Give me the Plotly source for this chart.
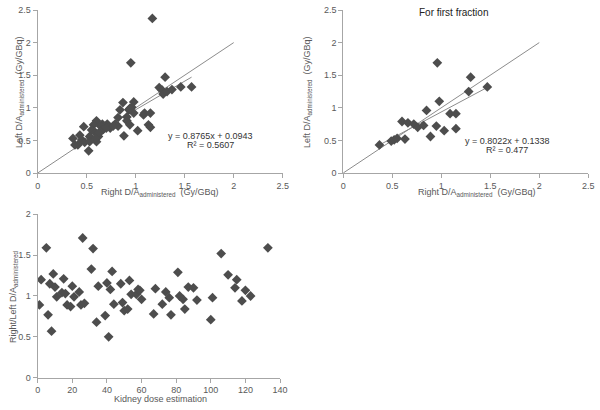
import plotly.graph_objects as go

# panel 1: all fractions, right vs left D/A administered
all_right = [1.17, 0.95, 1.30, 1.24, 1.27, 1.28, 1.32, 1.37, 1.46, 1.57,
             0.87, 0.98, 0.96, 0.93, 0.84, 0.91, 0.98, 0.82, 1.08, 1.09,
             1.15, 0.91, 0.94, 1.13, 1.15, 0.82, 0.79, 0.74, 0.71, 0.88,
             1.02, 0.66, 0.60, 0.64, 0.57, 0.55, 0.59, 0.62, 0.60, 0.53,
             0.52, 0.47, 0.43, 0.45, 0.41, 0.36, 0.38, 0.48, 0.64, 0.67,
             0.70, 0.62, 0.59, 0.53, 0.77, 0.94]
all_left = [2.37, 1.69, 1.47, 1.31, 1.27, 1.21, 1.25, 1.28, 1.32, 1.32,
            1.08, 1.09, 1.01, 0.97, 0.97, 0.86, 0.92, 0.85, 0.89, 0.92,
            0.92, 0.80, 0.74, 0.74, 0.70, 0.72, 0.75, 0.69, 0.75, 0.57,
            0.65, 0.75, 0.80, 0.72, 0.74, 0.66, 0.62, 0.56, 0.48, 0.56,
            0.34, 0.71, 0.58, 0.51, 0.43, 0.53, 0.43, 0.47, 0.63, 0.67,
            0.69, 0.61, 0.53, 0.48, 0.72, 0.99]
fit_all = dict(slope=0.8765, intercept=0.0943, x0=0.37, x1=1.57)

# panel 2: first fraction only
first_right = [0.37, 0.49, 0.52, 0.55, 0.60, 0.63, 0.66, 0.72, 0.76, 0.82,
               0.85, 0.89, 0.96, 0.95, 0.98, 1.03, 1.09, 1.15, 1.15, 1.28,
               1.30, 1.47]
first_left = [0.43, 0.49, 0.51, 0.53, 0.79, 0.52, 0.77, 0.75, 0.70, 0.73,
              0.96, 0.56, 1.69, 0.72, 1.10, 0.65, 0.91, 0.91, 0.68, 1.25,
              1.47, 1.32]
fit_first = dict(slope=0.8022, intercept=0.1338, x0=0.37, x1=1.47)

# panel 3: ratio vs kidney dose estimation
dose = [1, 2, 5, 6, 7, 8, 9, 10, 11, 14, 15, 16, 17, 19, 20, 21, 24, 25, 26, 27,
        31, 32, 34, 35, 39, 40, 41, 42, 43, 44, 48, 49, 50, 52, 53, 54, 57, 58, 59, 60,
        67, 68, 72, 74, 76, 77, 81, 82, 84, 85, 87, 90, 92, 100, 101, 106, 110, 114,
        115, 118, 120, 123, 133]
ratio = [0.89, 1.20, 1.59, 0.77, 1.15, 0.57, 1.27, 1.11, 0.99, 1.04, 1.21, 1.03, 0.89,
         0.87, 1.12, 0.99, 1.05, 0.89, 1.71, 0.91, 1.33, 1.58, 0.68, 1.12, 0.76, 1.16,
         0.50, 1.08, 1.30, 0.90, 1.15, 0.92, 0.82, 0.84, 1.19, 1.02, 1.02, 1.08, 1.07,
         0.96, 0.78, 1.09, 0.90, 1.05, 0.98, 0.77, 1.29, 1.00, 0.96, 0.84, 1.11, 1.10,
         0.95, 0.71, 0.98, 1.52, 1.26, 1.10, 1.20, 0.94, 1.07, 1.00, 1.59]

identity = [0, 2]

FONT = "Liberation Sans, Arial, sans-serif"
MARK = "#4d4d4d"
LINE = "#8c8c8c"

fig = go.Figure()

def diamonds(x, y, ax):
    fig.add_trace(go.Scatter(x=x, y=y, mode="markers", xaxis="x" + ax, yaxis="y" + ax,
                             marker=dict(symbol="diamond", size=7.5, color=MARK),
                             showlegend=False, hoverinfo="x+y"))

def lines(fit, ax):
    fig.add_trace(go.Scatter(x=identity, y=identity, mode="lines", xaxis="x" + ax,
                             yaxis="y" + ax, line=dict(color=LINE, width=1),
                             showlegend=False, hoverinfo="skip"))
    xs = [fit["x0"], fit["x1"]]
    ys = [fit["slope"] * v + fit["intercept"] for v in xs]
    fig.add_trace(go.Scatter(x=xs, y=ys, mode="lines", xaxis="x" + ax, yaxis="y" + ax,
                             line=dict(color=LINE, width=1),
                             showlegend=False, hoverinfo="skip"))

lines(fit_all, "")
diamonds(all_right, all_left, "")
lines(fit_first, "2")
diamonds(first_right, first_left, "2")
diamonds(dose, ratio, "3")

axis = dict(showline=True, linecolor="#a6a6a6", linewidth=1, ticks="outside",
            ticklen=4, tickcolor="#a6a6a6", showgrid=False, zeroline=False,
            automargin=False,
            tickfont=dict(family=FONT, size=9, color="#595959"))

fig.update_layout(
    width=600, height=410,
    margin=dict(l=0, r=0, t=0, b=0),
    paper_bgcolor="white", plot_bgcolor="white",
    font=dict(family=FONT, size=9, color="#595959"),
    xaxis=dict(axis, domain=[0.0628, 0.4712], range=[0, 2.5], dtick=0.5, anchor="y"),
    yaxis=dict(axis, domain=[0.578, 0.9756], range=[0, 2.5], dtick=0.5, anchor="x"),
    xaxis2=dict(axis, domain=[0.572, 0.9805], range=[0, 2.5], dtick=0.5, anchor="y2"),
    yaxis2=dict(axis, domain=[0.578, 0.9756], range=[0, 2.5], dtick=0.5, anchor="x2"),
    xaxis3=dict(axis, domain=[0.0628, 0.4667], range=[0, 140], dtick=20, anchor="y3"),
    yaxis3=dict(axis, domain=[0.0788, 0.4773], range=[0, 2], dtick=0.5, anchor="x3"),
)

def note(text, x, y, angle=0, size=9, color="#595959"):
    fig.add_annotation(text=text, x=x / 600, y=1 - y / 410, xref="paper", yref="paper",
                       showarrow=False, textangle=angle, xanchor="center", yanchor="middle",
                       font=dict(family=FONT, size=size, color=color))

xlab = "Right D/A<sub>administered</sub>  (Gy/GBq)"
ylab = "Left D/A<sub>administered</sub>  (Gy/GBq)"
note(xlab, 160, 192)
note(ylab, 20, 92, angle=-90)
note(xlab, 477, 192)
note(ylab, 308, 92, angle=-90)
note("Kidney dose estimation", 160, 399)
note("Right/Left D/A<sub>administered</sub>", 13, 297, angle=-90)
note("For first fraction", 453, 12, size=10, color="#222222")

note("y = 0.8765x + 0.0943", 210, 136, color="#333333")
note("R² = 0.5607", 210, 145, color="#333333")
note("y = 0.8022x + 0.1338", 507, 141, color="#333333")
note("R² = 0.477", 507, 150, color="#333333")

# drop the browser's default 8px body margin so the figure sits at the page corner
fig.write_html("out.html", config={"displayModeBar": False},
               post_script="document.body.style.margin='0';document.body.style.overflow='hidden';")
